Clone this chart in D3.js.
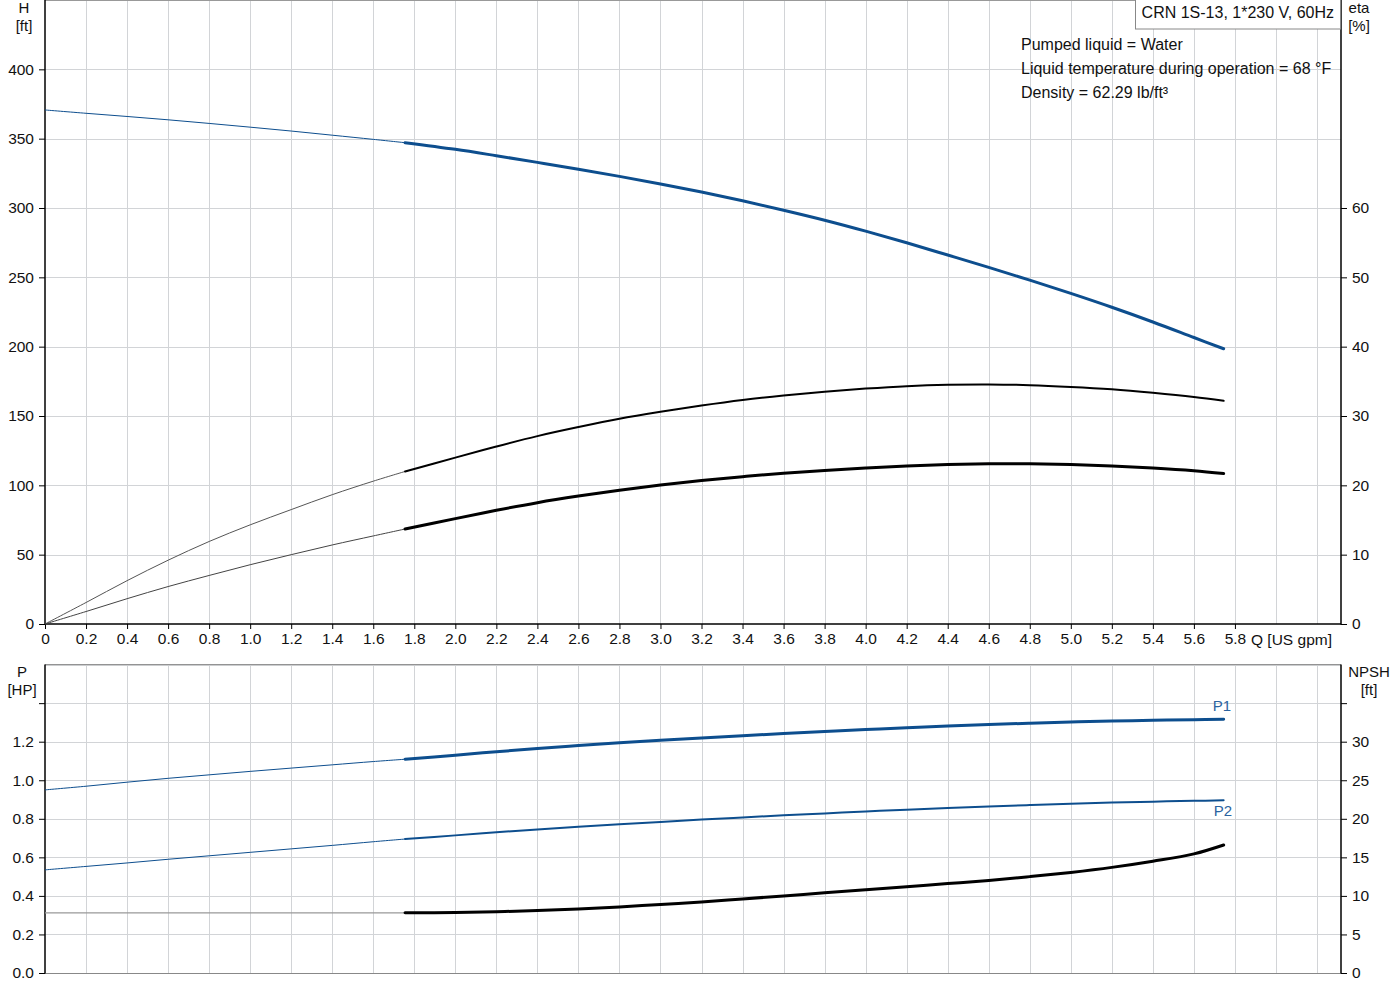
<!DOCTYPE html>
<html>
<head>
<meta charset="utf-8">
<script src="https://cdn.jsdelivr.net/npm/d3@7/dist/d3.min.js"></script>
<style>
    html, body { margin: 0; padding: 0; background: #fff; }
    svg text { font-family: "Liberation Sans", Arial, sans-serif; font-size: 15px; fill: #111; }
    svg .tick text { font-size: 15.5px; }
    svg text.info { font-size: 16px; }
</style>
</head>
<body>
<svg id="chart" width="1400" height="1000"></svg>
<script>
// flow points, the thin (extrapolated) part and the thick (operating) part
var qLow = [0, 0.2, 0.4, 0.6, 0.8, 1.0, 1.2, 1.4, 1.6, 1.755];
var qHigh = [1.755, 2.0, 2.2, 2.4, 2.6, 2.8, 3.0, 3.2, 3.4, 3.6, 3.8, 4.0, 4.2, 4.4, 4.6, 4.8, 5.0, 5.2, 5.4, 5.6, 5.745];

// head [ft]
var headLow = [370.7, 368.3, 366.0, 363.6, 361.0, 358.3, 355.5, 352.5, 349.5, 347.1];
var headHigh = [347.1, 342.3, 337.7, 332.9, 328.0, 322.8, 317.3, 311.5, 305.2, 298.4, 291.2, 283.3, 274.9, 266.1, 257.2, 248.0, 238.4, 228.4, 217.8, 206.6, 198.5];

// efficiency [%], pump and total
var etaLow = [0, 3.1, 6.25, 9.2, 11.9, 14.3, 16.5, 18.65, 20.6, 22.0];
var etaHigh = [22.0, 24.0, 25.6, 27.1, 28.4, 29.6, 30.6, 31.5, 32.3, 32.95, 33.5, 33.95, 34.3, 34.5, 34.55, 34.45, 34.2, 33.85, 33.35, 32.75, 32.2];
var etaTotLow = [0, 1.8, 3.65, 5.4, 7.0, 8.55, 10.0, 11.4, 12.7, 13.7];
var etaTotHigh = [13.7, 15.2, 16.4, 17.5, 18.45, 19.3, 20.05, 20.7, 21.25, 21.75, 22.15, 22.5, 22.8, 23.0, 23.1, 23.1, 23.0, 22.8, 22.5, 22.1, 21.7];

// power [HP]
var p1Low = [0.950, 0.969, 0.990, 1.010, 1.028, 1.046, 1.063, 1.080, 1.097, 1.109];
var p1High = [1.109, 1.130, 1.148, 1.165, 1.180, 1.194, 1.207, 1.219, 1.231, 1.242, 1.253, 1.263, 1.272, 1.281, 1.289, 1.296, 1.302, 1.307, 1.311, 1.314, 1.316];
var p2Low = [0.535, 0.553, 0.571, 0.590, 0.608, 0.626, 0.644, 0.662, 0.681, 0.695];
var p2High = [0.695, 0.714, 0.730, 0.745, 0.759, 0.772, 0.784, 0.796, 0.807, 0.818, 0.828, 0.838, 0.847, 0.856, 0.864, 0.871, 0.878, 0.884, 0.889, 0.893, 0.896];

// NPSH [ft]
var npshLow = [7.8, 7.8, 7.8, 7.8, 7.8, 7.8, 7.8, 7.8, 7.8, 7.8];
var npshHigh = [7.8, 7.85, 7.95, 8.1, 8.3, 8.55, 8.9, 9.2, 9.6, 10.0, 10.4, 10.8, 11.2, 11.6, 12.0, 12.5, 13.05, 13.7, 14.5, 15.45, 16.6];

// tick values
var qTicks = [0, 0.2, 0.4, 0.6, 0.8, 1.0, 1.2, 1.4, 1.6, 1.8, 2.0, 2.2, 2.4, 2.6, 2.8, 3.0, 3.2, 3.4, 3.6, 3.8, 4.0, 4.2, 4.4, 4.6, 4.8, 5.0, 5.2, 5.4, 5.6, 5.8];
var qGrid = qTicks.concat([6.0, 6.2]).slice(1);
var headTicks = [0, 50, 100, 150, 200, 250, 300, 350, 400];
var etaTicks = [0, 10, 20, 30, 40, 50, 60];
var powerTicks = [0, 0.2, 0.4, 0.6, 0.8, 1.0, 1.2, 1.4];
var npshTicks = [0, 5, 10, 15, 20, 25, 30, 35];

var infoLines = ["Pumped liquid = Water", "Liquid temperature during operation = 68 \u00b0F", "Density = 62.29 lb/ft\u00b3"];

var BLUE = "#0d4e8e";
var GRID = "#d2d4d7";

var svg = d3.select("#chart");
var left = 45, right = 1341;
var x = d3.scaleLinear().domain([0, 6.317]).range([left, right]);

var topPanel = { top: 0, bottom: 624 };
var botPanel = { top: 664.6, bottom: 973 };
var yHead = d3.scaleLinear().domain([0, 450]).range([topPanel.bottom, topPanel.top]);
var yEta = d3.scaleLinear().domain([0, 90]).range([topPanel.bottom, topPanel.top]);
var yPower = d3.scaleLinear().domain([0, 1.6]).range([botPanel.bottom, botPanel.top]);
var yNpsh = d3.scaleLinear().domain([0, 40]).range([botPanel.bottom, botPanel.top]);

/**
 * Draws the grid of one panel.
 */
function drawGrid(panel, yScale, yGrid) {
    var g = svg.append("g").attr("shape-rendering", "crispEdges");
    g.selectAll("line.v").data(qGrid).enter().append("line")
        .attr("x1", function (d) { return Math.round(x(d)) + 0.5; })
        .attr("x2", function (d) { return Math.round(x(d)) + 0.5; })
        .attr("y1", panel.top).attr("y2", panel.bottom)
        .attr("stroke", GRID);
    g.selectAll("line.h").data(yGrid).enter().append("line")
        .attr("x1", left).attr("x2", right)
        .attr("y1", function (d) { return Math.round(yScale(d)) + 0.5; })
        .attr("y2", function (d) { return Math.round(yScale(d)) + 0.5; })
        .attr("stroke", GRID);
}

drawGrid(topPanel, yHead, [50, 100, 150, 200, 250, 300, 350, 400, 450]);
drawGrid(botPanel, yPower, [0.2, 0.4, 0.6, 0.8, 1.0, 1.2, 1.4, 1.6]);

// panel borders
svg.append("line").attr("x1", left).attr("x2", right).attr("y1", 0.5).attr("y2", 0.5).attr("stroke", "#999");
svg.append("line").attr("x1", left).attr("x2", right).attr("y1", botPanel.top).attr("y2", botPanel.top).attr("stroke", "#888");
svg.append("line").attr("x1", left).attr("x2", right).attr("y1", botPanel.bottom + 0.5).attr("y2", botPanel.bottom + 0.5).attr("stroke", "#888");

/**
 * Draws a vertical axis; the last tick may stay without a label.
 */
function drawAxis(scale, ticks, xPos, orient, hideLast, format) {
    var axis = (orient === "left" ? d3.axisLeft(scale) : d3.axisRight(scale))
        .tickValues(ticks).tickSizeOuter(0).tickSize(6).tickPadding(5)
        .tickFormat(function (d, i) { return (hideLast && i === ticks.length - 1) ? "" : format(d); });
    var g = svg.append("g").attr("transform", "translate(" + xPos + ",0)").call(axis);
    g.select(".domain").remove();
    g.selectAll("line").attr("stroke", "#000");
    g.selectAll("text").attr("fill", "#111");
    g.attr("font-size", null).attr("font-family", null);
    var range = scale.range();
    svg.append("line").attr("x1", xPos).attr("x2", xPos)
        .attr("y1", range[1]).attr("y2", range[0] + 0.5)
        .attr("stroke", "#000").attr("stroke-width", 1.5);
    return g;
}

drawAxis(yHead, headTicks, left, "left", false, d3.format("d"));
drawAxis(yEta, etaTicks, right, "right", false, d3.format("d"));
drawAxis(yPower, powerTicks, left, "left", true, d3.format(".1f"));
drawAxis(yNpsh, npshTicks, right, "right", true, d3.format("d"));

// x axis of the top panel
var xAxis = d3.axisBottom(x).tickValues(qTicks).tickSizeOuter(0).tickSize(5).tickPadding(4)
    .tickFormat(function (d) { return d === 0 ? "0" : d3.format(".1f")(d); });
var gx = svg.append("g").attr("transform", "translate(0," + topPanel.bottom + ")").call(xAxis);
gx.select(".domain").remove();
gx.selectAll("line").attr("stroke", "#000");
gx.selectAll("text").attr("fill", "#111");
gx.attr("font-size", null).attr("font-family", null);
svg.append("line").attr("x1", left).attr("x2", right)
    .attr("y1", topPanel.bottom).attr("y2", topPanel.bottom)
    .attr("stroke", "#000").attr("stroke-width", 1.5);
svg.append("text").attr("x", 1251).attr("y", 644.5).style("font-size", "15.5px").text("Q [US gpm]");

// axis titles
function axisTitle(xPos, y, lines, anchor) {
    lines.forEach(function (s, i) {
        svg.append("text").attr("x", xPos).attr("y", y + i * 18).attr("text-anchor", anchor).text(s);
    });
}
axisTitle(24, 13, ["H", "[ft]"], "middle");
axisTitle(1359, 13, ["eta", "[%]"], "middle");
axisTitle(22, 677, ["P", "[HP]"], "middle");
axisTitle(1369, 677, ["NPSH", "[ft]"], "middle");

// title box and liquid info
svg.append("rect").attr("x", 1135.5).attr("y", -1).attr("width", 205).attr("height", 30)
    .attr("fill", "#fff").attr("stroke", "#888");
svg.append("text").attr("class", "info").attr("x", 1334).attr("y", 18).attr("text-anchor", "end").text("CRN 1S-13, 1*230 V, 60Hz");
infoLines.forEach(function (s, i) {
    svg.append("text").attr("class", "info").attr("x", 1021).attr("y", 50 + i * 24).text(s);
});

/**
 * Draws one curve as a thin extrapolated part and a thick operating part.
 */
function drawCurve(yScale, low, high, color, thinColor, width, thinWidth) {
    var line = d3.line()
        .x(function (d) { return x(d[0]); })
        .y(function (d) { return yScale(d[1]); })
        .curve(d3.curveCatmullRom.alpha(0.5));
    svg.append("path")
        .attr("d", line(d3.zip(qLow, low)))
        .attr("fill", "none").attr("stroke", thinColor).attr("stroke-width", thinWidth || 1);
    svg.append("path")
        .attr("d", line(d3.zip(qHigh, high)))
        .attr("fill", "none").attr("stroke", color).attr("stroke-width", width)
        .attr("stroke-linecap", "round");
}

drawCurve(yHead, headLow, headHigh, BLUE, BLUE, 3);
drawCurve(yEta, etaLow, etaHigh, "#000", "#555", 2);
drawCurve(yEta, etaTotLow, etaTotHigh, "#000", "#444", 3);
drawCurve(yPower, p1Low, p1High, BLUE, BLUE, 3);
drawCurve(yPower, p2Low, p2High, BLUE, BLUE, 2);
drawCurve(yNpsh, npshLow, npshHigh, "#000", "#999", 3, 1.3);

// power curve labels
svg.append("text").attr("x", 1222).attr("y", 711).attr("text-anchor", "middle").style("fill", "#2a63a0").text("P1");
svg.append("text").attr("x", 1223).attr("y", 816).attr("text-anchor", "middle").style("fill", "#2a63a0").text("P2");
</script>
</body>
</html>
